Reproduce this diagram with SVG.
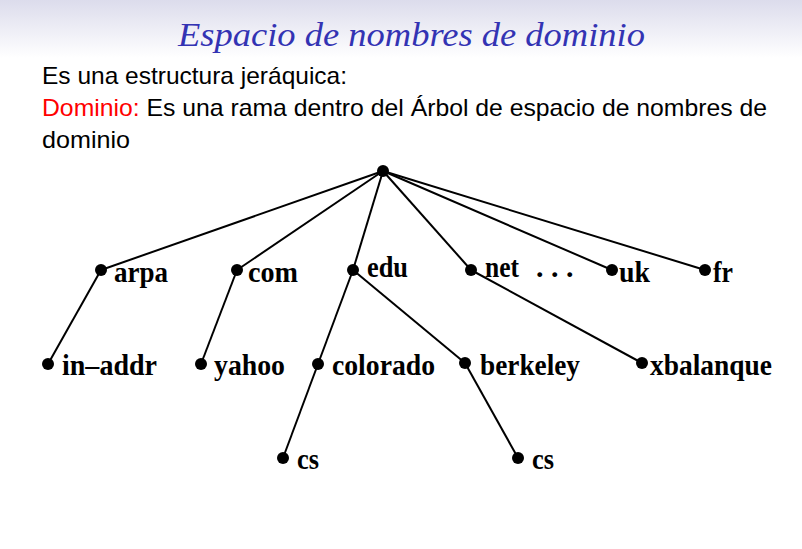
<svg xmlns="http://www.w3.org/2000/svg" width="802" height="549" viewBox="0 0 802 549">
<defs>
<linearGradient id="hdr" x1="0" y1="0" x2="0" y2="1">
<stop offset="0" stop-color="#dcdcec"/>
<stop offset="1" stop-color="#ffffff"/>
</linearGradient>
</defs>
<style>
.title{font-family:"Liberation Serif",serif;font-style:italic;font-size:34px;fill:#3333b3}
.body{font-family:"Liberation Sans",sans-serif;font-size:24px;fill:#000}
.red{fill:#ff0000}
.lbl{font-family:"Liberation Serif",serif;font-weight:bold;font-size:30px;fill:#000}
.dot{fill:#000}
.edge{stroke:#000;stroke-width:2;fill:none}
</style>
<rect x="0" y="0" width="802" height="549" fill="#fff"/>
<rect x="0" y="0" width="802" height="58" fill="url(#hdr)"/>
<text class="title" x="178" y="46" textLength="467" lengthAdjust="spacingAndGlyphs">Espacio de nombres de dominio</text>
<text class="body" x="42" y="84" textLength="305" lengthAdjust="spacingAndGlyphs">Es una estructura jeráquica:</text>
<text class="body" x="42" y="116" textLength="725" lengthAdjust="spacingAndGlyphs"><tspan class="red">Dominio:</tspan> Es una rama dentro del Árbol de espacio de nombres de</text>
<text class="body" x="42" y="148" textLength="88" lengthAdjust="spacingAndGlyphs">dominio</text>
<g id="connectors">
<line class="edge" x1="383" y1="171" x2="101" y2="270"/>
<line class="edge" x1="383" y1="171" x2="237" y2="270"/>
<line class="edge" x1="383" y1="171" x2="353" y2="270"/>
<line class="edge" x1="383" y1="171" x2="471" y2="270"/>
<line class="edge" x1="383" y1="171" x2="612" y2="270"/>
<line class="edge" x1="383" y1="171" x2="705" y2="270"/>
<line class="edge" x1="101" y1="270" x2="48" y2="364"/>
<line class="edge" x1="237" y1="270" x2="201" y2="364"/>
<line class="edge" x1="353" y1="270" x2="318" y2="364"/>
<line class="edge" x1="353" y1="270" x2="465" y2="363"/>
<line class="edge" x1="471" y1="270" x2="642" y2="363"/>
<line class="edge" x1="318" y1="364" x2="283" y2="458"/>
<line class="edge" x1="465" y1="363" x2="518" y2="458"/>
</g>
<g id="root"><circle class="dot" cx="383" cy="171" r="6"/></g>
<g id="arpa"><circle class="dot" cx="101" cy="270" r="6"/><text class="lbl" x="114" y="282" textLength="54" lengthAdjust="spacingAndGlyphs">arpa</text></g>
<g id="com"><circle class="dot" cx="237" cy="270" r="6"/><text class="lbl" x="248" y="282" textLength="50" lengthAdjust="spacingAndGlyphs">com</text></g>
<g id="edu"><circle class="dot" cx="353" cy="270" r="6"/><text class="lbl" x="367" y="277" textLength="41" lengthAdjust="spacingAndGlyphs">edu</text></g>
<g id="net"><circle class="dot" cx="471" cy="270" r="6"/><text class="lbl" x="485" y="277" textLength="34" lengthAdjust="spacingAndGlyphs">net</text></g>
<g id="ellipsis"><text class="lbl" x="536" y="277">. . .</text></g>
<g id="uk"><circle class="dot" cx="612" cy="270" r="6"/><text class="lbl" x="619" y="282" textLength="31" lengthAdjust="spacingAndGlyphs">uk</text></g>
<g id="fr"><circle class="dot" cx="705" cy="270" r="6"/><text class="lbl" x="713" y="282" textLength="20" lengthAdjust="spacingAndGlyphs">fr</text></g>
<g id="in-addr"><circle class="dot" cx="48" cy="364" r="6"/><text class="lbl" x="62" y="375" textLength="95" lengthAdjust="spacingAndGlyphs">in–addr</text></g>
<g id="yahoo"><circle class="dot" cx="201" cy="364" r="6"/><text class="lbl" x="214" y="375" textLength="71" lengthAdjust="spacingAndGlyphs">yahoo</text></g>
<g id="colorado"><circle class="dot" cx="318" cy="364" r="6"/><text class="lbl" x="332" y="375" textLength="103" lengthAdjust="spacingAndGlyphs">colorado</text></g>
<g id="berkeley"><circle class="dot" cx="465" cy="363" r="6"/><text class="lbl" x="480" y="375" textLength="100" lengthAdjust="spacingAndGlyphs">berkeley</text></g>
<g id="xbalanque"><circle class="dot" cx="642" cy="363" r="6"/><text class="lbl" x="650" y="375" textLength="122" lengthAdjust="spacingAndGlyphs">xbalanque</text></g>
<g id="cs1"><circle class="dot" cx="283" cy="458" r="6"/><text class="lbl" x="297" y="469" textLength="22" lengthAdjust="spacingAndGlyphs">cs</text></g>
<g id="cs2"><circle class="dot" cx="518" cy="458" r="6"/><text class="lbl" x="532" y="469" textLength="22" lengthAdjust="spacingAndGlyphs">cs</text></g>
</svg>
